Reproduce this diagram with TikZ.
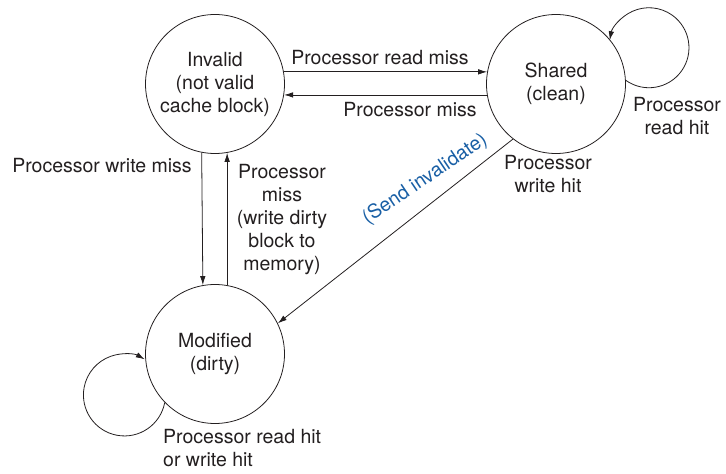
\documentclass[tikz,border=0pt]{standalone}
\usepackage{fontspec}
\setmainfont{TeX Gyre Heros}
\usetikzlibrary{arrows.meta}
\definecolor{ink}{RGB}{35,31,32}
\definecolor{cueblue}{RGB}{25,95,165}
\begin{document}
\begin{tikzpicture}[x=1pt,y=1pt,
  font=\fontsize{19.5}{23}\selectfont,
  every node/.style={text=ink},
  state/.style={draw=ink, line width=0.8pt, circle, minimum size=139pt, inner sep=0pt, align=center},
  lbl/.style={inner sep=0pt, align=center, anchor=base},
  edge/.style={draw=ink, line width=0.8pt, -{Latex[length=9pt,width=5.5pt]}}]
\useasboundingbox (0,0) rectangle (726,474);

% the three cache states
\node[state] (inv) at (215,390) {Invalid\\(not valid\\cache block)};
\node[state] (sh)  at (556,390) {Shared\\(clean)};
\node[state] (mod) at (215,120) {Modified\\(dirty)};

% Invalid <-> Shared
\draw[edge] (inv.10) -- (sh.170);
\draw[edge] (sh.189.2) -- (inv.-9.2);
\node[lbl] (rm) at (380,409) {Processor read miss};
\node[lbl] (pm) at (410,357) {Processor miss};

% Invalid <-> Modified (base anchor sits on the last line)
\draw[edge] (inv.259.15) -- (mod.100.8);
\draw[edge] (mod.80) -- (inv.280);
\node[lbl] (wm) at (102,301) {Processor write miss};
\node[lbl] (wb) at (282,203) {Processor\\miss\\(write dirty\\block to\\memory)};

% Shared -> Modified, with the bus action written above it
\draw[edge] (sh.232.5) -- (mod.26.7);
\node[inner sep=0pt, rotate=34, text=cueblue] (si) at (425,294.5) {(Send invalidate)};
\node[lbl] (wh) at (548,281) {Processor\\write hit};

% self loops
\draw[edge] (sh.3.6) arc[start angle=-125.4, end angle=169.2, radius=40];
\node[lbl] (rh) at (677,339) {Processor\\read hit};
\draw[edge] (mod.224.9) arc[start angle=-10.7, end angle=-299.7, radius=41];
\node[lbl, anchor=base west, align=left] (mh) at (163,7) {Processor read hit\\or write hit};
\end{tikzpicture}
\end{document}
